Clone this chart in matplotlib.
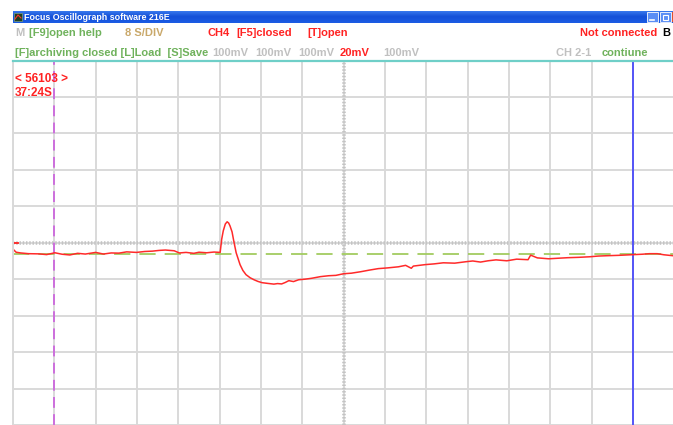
import numpy as np
import matplotlib.pyplot as plt
from matplotlib.patches import Rectangle

# ----- scope settings -----
sec_per_div = 8      # 8 S/DIV
mv_per_div = 20      # CH4 at 20mV
n_xdiv_visible = 15.97
cursor_a_s = 8.0     # magenta cursor
cursor_b_s = 120.0   # blue cursor
ref_level_mv = -6.0  # green dashed level

# ----- CH4 trace -----
time_s = [0, 0.6, 1.5, 3, 5, 6.5, 8.1, 9.5, 11, 12.5, 14, 16, 17.5, 19, 20.5,
          22, 23.9, 25.5, 27, 28.3, 29.5, 31.2, 32.2, 33.5, 35, 36, 37.5, 38.9,
          40.1, 40.4, 40.7, 41.1, 41.45, 41.75, 42.0, 42.4, 42.8, 43.2, 43.95,
          44.5, 45.1, 45.9, 46.65, 47.4, 48.2, 49.3, 50.5, 51.2, 52.0, 52.7,
          53.4, 54.3, 55.3, 56.5, 57.8, 59.5, 61.1, 62.5, 64.0, 65.5, 67.3, 69,
          70.7, 72.5, 74.6, 76, 77.1, 77.5, 79.8, 81.5, 83.3, 85.5, 87.7, 89,
          90.5, 91.95, 93.5, 95.6, 97.5, 99.7, 100.2, 101.5, 103.7, 105.5,
          107.4, 109.5, 111.6, 113.3, 115.1, 117.3, 119.5, 121.8, 123.2, 124.7,
          126, 127.7]
ch4_mv = [-3.5, -5.2, -5.6, -6.0, -6.1, -6.5, -5.5, -6.3, -6.7, -5.8, -6.2,
          -5.3, -6.2, -5.6, -5.7, -5.0, -5.3, -4.8, -4.6, -4.2, -4.0, -4.4,
          -5.6, -5.3, -5.8, -5.2, -5.5, -5.1, -5.3, 2.0, 6.5, 10.3, 11.5, 10.8,
          9.3, 6.0, 0.0, -5.5, -12.0, -15.2, -17.5, -19.2, -20.3, -21.2, -21.9,
          -22.3, -22.7, -22.4, -22.6, -21.8, -20.8, -21.3, -20.3, -20.0, -19.5,
          -18.6, -18.1, -17.9, -17.0, -16.7, -15.9, -15.0, -14.2, -13.8, -13.2,
          -12.4, -14.0, -12.8, -12.0, -11.6, -11.0, -11.2, -10.4, -10.0, -10.6,
          -9.9, -9.4, -9.9, -9.0, -9.3, -6.8, -8.3, -8.8, -8.5, -8.2, -8.0,
          -7.7, -7.3, -7.1, -6.9, -6.6, -6.3, -6.0, -6.0, -6.6, -7.1]

W, H = 673, 425
plt.rcParams['font.family'] = ['Liberation Sans', 'DejaVu Sans']
fig = plt.figure(figsize=(W / 100, H / 100), dpi=100)
fig.patch.set_facecolor('white')


def fx(px):
    return px / W


def fy(py):
    return 1 - py / H


# ----- window title bar -----
bar = fig.add_axes([fx(13), fy(23.5), fx(660), 12.5 / H])
grad = np.linspace(0, 1, 20).reshape(-1, 1)
bar.imshow(grad, aspect='auto', cmap=plt.matplotlib.colors.LinearSegmentedColormap.from_list(
    'xp', ['#3d7ef0', '#1450d8', '#1c5ce4']), extent=[0, 1, 0, 1])
bar.set_axis_off()
fig.patches.append(Rectangle((fx(14), fy(21)), fx(8), 8 / H, transform=fig.transFigure,
                             facecolor='#204020', edgecolor='#80a080', lw=0.5))
fig.lines.append(plt.Line2D([fx(15), fx(18), fx(21)], [fy(19), fy(15), fy(18)],
                            transform=fig.transFigure, color='#ff3030', lw=0.8))
for bx in (647, 660):
    fig.patches.append(Rectangle((fx(bx), fy(22)), fx(11), 10 / H, transform=fig.transFigure,
                                 facecolor='#5b8ef5', edgecolor='white', lw=0.6))
fig.lines.append(plt.Line2D([fx(650), fx(654)], [fy(19.5), fy(19.5)],
                            transform=fig.transFigure, color='white', lw=1.2))
fig.patches.append(Rectangle((fx(663), fy(20)), fx(5), 5 / H, transform=fig.transFigure,
                             facecolor='none', edgecolor='white', lw=0.8))
fig.patches.append(Rectangle((fx(672), fy(22)), fx(2), 10 / H, transform=fig.transFigure,
                             facecolor='#e05030', edgecolor='none'))
fig.text(fx(24), fy(17.5), "Focus Oscillograph software 216E", color='white',
         fontsize=6.4, fontweight='bold', va='center')

# ----- status lines -----
green = '#6fb25c'
red = '#ff2222'
grey = '#c0c0c0'
tan = '#c9a86a'
row1 = [(15, "M", grey), (29, "[F9]open help", green), (125, "8 S/DIV", tan),
        (207, "CH4", red), (236, "[F5]closed", red), (307, "[T]open", red),
        (580, "Not connected", red), (662, "B", 'black')]
row2 = [(15, "[F]archiving closed [L]Load  [S]Save", green), (212, "100mV", grey),
        (255, "100mV", grey), (298, "100mV", grey), (340, "20mV", red),
        (383, "100mV", grey), (556, "CH 2-1", grey), (602, "contiune", green)]
for px, s, c in row1:
    fig.text(fx(px), fy(33), s, color=c, fontsize=8, fontweight='bold', va='center')
for px, s, c in row2:
    fig.text(fx(px), fy(53), s, color=c, fontsize=8, fontweight='bold', va='center')

# ----- scope screen -----
ax = fig.add_axes([fx(13), 0, fx(660), (H - 60.5) / H])
ax.set_xlim(0, n_xdiv_visible * sec_per_div)
ax.set_ylim(-5 * mv_per_div, 5 * mv_per_div)
ax.set_xticks(np.arange(0, 16) * sec_per_div)
ax.set_yticks(np.arange(-5, 6) * mv_per_div)
ax.grid(True, color='#d9d9d9', lw=1.4)
ax.tick_params(length=0, labelbottom=False, labelleft=False)
for side in ('right', 'bottom'):
    ax.spines[side].set_visible(False)
ax.spines['left'].set_color('#d9d9d9')
ax.spines['left'].set_linewidth(1.4)
ax.spines['top'].set_color('#6fcfc8')
ax.spines['top'].set_linewidth(1.6)

# centre cross, dotted
ax.axhline(0, color='#c4c4c4', lw=2.6, ls=(0, (0.4, 0.5)))
ax.axvline(8 * sec_per_div, color='#c4c4c4', lw=2.6, ls=(0, (0.4, 0.5)))

ax.axhline(ref_level_mv, color='#a2cc60', lw=1.3, ls=(0, (9, 5)))
ax.axvline(cursor_a_s, color='#cc66dd', lw=1.3, ls=(0, (6, 3.5)))
ax.axvline(cursor_b_s, color='#3030ff', lw=1.1)
ax.plot([0, 1.0], [0, 0], color=red, lw=1.3)
ax.plot(time_s, ch4_mv, color='#ff2a2a', lw=1.1)

ax.text(0.4, 90.0, "< 56103 >", color=red, fontsize=8.5, fontweight='bold', va='center')
ax.text(0.4, 82.3, "37:24S", color=red, fontsize=8.5, fontweight='bold', va='center')

fig.savefig('out.png', dpi=100)
